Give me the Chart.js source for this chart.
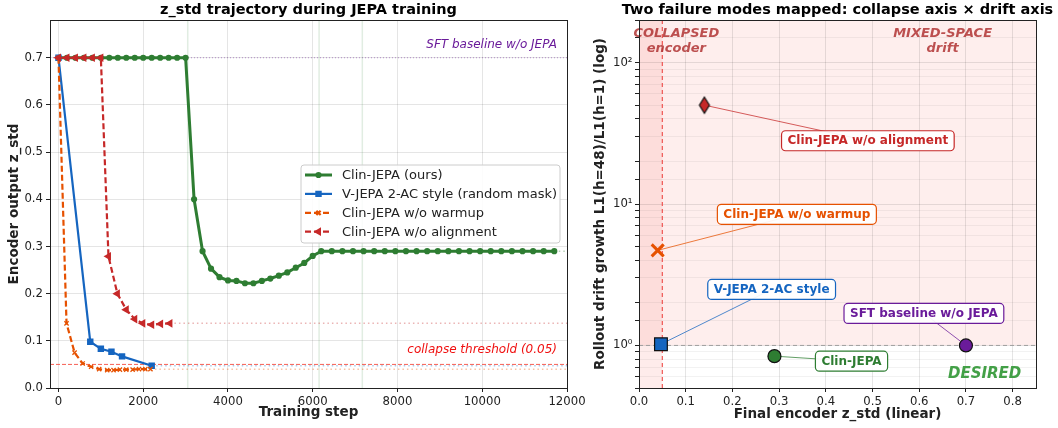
<!DOCTYPE html>
<html>
<head>
<meta charset="utf-8">
<script src="https://cdn.jsdelivr.net/npm/chart.js@4.4.1/dist/chart.umd.min.js"></script>
<style>
  html, body { margin: 0; padding: 0; background: #fff; }
  #wrap { position: relative; width: 1058px; height: 428px; }
  #left { position: absolute; left: 0; top: 0; }
  #right { position: absolute; left: 590px; top: 0; }
</style>
</head>
<body>
<div id="wrap">
  <canvas id="left" width="590" height="428"></canvas>
  <canvas id="right" width="468" height="428"></canvas>
</div>
<script>
// Dos paneles: trayectoria de z_std (izq.) y mapa colapso x deriva (der.)

// ---------------------------------------------------------------------
// Datos panel izquierdo
// ---------------------------------------------------------------------
const X_MIN = -200;
const X_MAX = 12000;
const stepTicks = [0, 2000, 4000, 6000, 8000, 10000, 12000];
const SFT_BASELINE = 0.7;
const COLLAPSE_THRESHOLD = 0.05;
const phaseSteps = [3050, 6150, 7170];

const clinSteps = [0, 200, 400, 600, 800, 1000, 1200, 1400, 1600, 1800, 2000, 2200, 2400, 2600, 2800, 3000,
  3200, 3400, 3600, 3800, 4000, 4200, 4400, 4600, 4800, 5000, 5200, 5400, 5600, 5800, 6000, 6200,
  6450, 6700, 6950, 7200, 7450, 7700, 7950, 8200, 8450, 8700, 8950, 9200, 9450, 9700, 9950,
  10200, 10450, 10700, 10950, 11200, 11450, 11700];
const clinZ = [0.7, 0.7, 0.7, 0.7, 0.7, 0.7, 0.7, 0.7, 0.7, 0.7, 0.7, 0.7, 0.7, 0.7, 0.7, 0.7,
  0.40, 0.29, 0.253, 0.235, 0.228, 0.227, 0.222, 0.222, 0.227, 0.232, 0.238, 0.245, 0.255, 0.265, 0.28, 0.29,
  0.29, 0.29, 0.29, 0.29, 0.29, 0.29, 0.29, 0.29, 0.29, 0.29, 0.29, 0.29, 0.29, 0.29, 0.29,
  0.29, 0.29, 0.29, 0.29, 0.29, 0.29, 0.29];

const vjepaSteps = [0, 750, 1000, 1250, 1500, 2200];
const vjepaZ = [0.7, 0.098, 0.083, 0.077, 0.067, 0.047];

const noWarmSteps = [0, 190, 380, 570, 770, 960, 1150, 1300, 1450, 1600, 1750, 1900, 2050, 2170];
const noWarmZ = [0.7, 0.137, 0.075, 0.052, 0.045, 0.040, 0.038, 0.038, 0.039, 0.039, 0.039, 0.040, 0.040, 0.040];

const noAlignSteps = [0, 200, 400, 600, 800, 1000, 1180, 1390, 1600, 1800, 1990, 2200, 2410, 2630];
const noAlignZ = [0.7, 0.7, 0.7, 0.7, 0.7, 0.7, 0.279, 0.20, 0.166, 0.146, 0.137, 0.134, 0.136, 0.137];

// ---------------------------------------------------------------------
// Datos panel derecho
// ---------------------------------------------------------------------
const models = ['Clin-JEPA w/o alignment', 'Clin-JEPA w/o warmup', 'V-JEPA 2-AC style', 'SFT baseline w/o JEPA', 'Clin-JEPA'];
const finalZ = [0.14, 0.04, 0.047, 0.70, 0.29];
const driftGrowth = [50, 4.7, 1.02, 1.0, 0.84];
// dónde va la etiqueta de cada modelo (coords de datos)
const labelAtZ = [0.49, 0.338, 0.284, 0.61, 0.455];
const labelAtDrift = [28, 8.45, 2.49, 1.685, 0.774];

const VERDE = '#2e7d32';
const AZUL = '#1565c0';
const NARANJA = '#e65100';
const ROJO = '#c62828';
const VIOLETA = '#6a1b9a';
const modelColors = [ROJO, NARANJA, AZUL, VIOLETA, VERDE];

Chart.defaults.font.family = "'DejaVu Sans', sans-serif";
Chart.defaults.font.size = 11.7;
Chart.defaults.color = '#222';

const FUENTE_EJE = { size: 13.5, weight: 'bold' };

// ---------------------------------------------------------------------
// Helpers
// ---------------------------------------------------------------------
function pts(xs, ys) {
  return xs.map((x, i) => ({ x, y: ys[i] }));
}

// línea punteada desde el último punto hasta el borde derecho
function cola(xs, ys) {
  const n = xs.length - 1;
  return [{ x: xs[n], y: ys[n] }, { x: X_MAX, y: ys[n] }];
}

function alpha(hex, a) {
  const n = parseInt(hex.slice(1), 16);
  return `rgba(${(n >> 16) & 255},${(n >> 8) & 255},${n & 255},${a})`;
}

function roundBox(ctx, x, y, w, h, r) {
  ctx.beginPath();
  ctx.moveTo(x + r, y);
  ctx.arcTo(x + w, y, x + w, y + h, r);
  ctx.arcTo(x + w, y + h, x, y + h, r);
  ctx.arcTo(x, y + h, x, y, r);
  ctx.arcTo(x, y, x + w, y, r);
  ctx.closePath();
}

function thinDiamond(fill) {
  const c = document.createElement('canvas');
  c.width = 14; c.height = 20;
  const g = c.getContext('2d');
  g.beginPath();
  g.moveTo(7, 2); g.lineTo(12, 10); g.lineTo(7, 18); g.lineTo(2, 10);
  g.closePath();
  g.fillStyle = fill; g.fill();
  g.lineWidth = 1.2; g.strokeStyle = '#111'; g.stroke();
  return c;
}

// marco negro alrededor del área (spines de matplotlib) + título
function marcoYTitulo(titulo) {
  return {
    id: 'marco',
    afterDraw(chart) {
      const { ctx, chartArea: a } = chart;
      ctx.save();
      ctx.strokeStyle = '#222';
      ctx.lineWidth = 1;
      ctx.strokeRect(a.left + 0.5, a.top + 0.5, a.right - a.left, a.bottom - a.top);
      ctx.fillStyle = '#000';
      ctx.font = "bold 14.5px 'DejaVu Sans'";
      ctx.textAlign = 'center';
      ctx.textBaseline = 'middle';
      ctx.fillText(titulo, (a.left + a.right) / 2, 10);
      ctx.restore();
    },
  };
}

// ---------------------------------------------------------------------
// Panel izquierdo
// ---------------------------------------------------------------------
const series = [
  { label: 'Clin-JEPA (ours)', data: pts(clinSteps, clinZ), borderColor: VERDE, backgroundColor: VERDE,
    borderWidth: 3, pointStyle: 'circle', pointRadius: 1.6, order: 4 },
  { label: 'V-JEPA 2-AC style (random mask)', data: pts(vjepaSteps, vjepaZ), borderColor: AZUL, backgroundColor: AZUL,
    borderWidth: 2.2, pointStyle: 'rect', pointRadius: 3, order: 3 },
  { label: 'Clin-JEPA w/o warmup', data: pts(noWarmSteps, noWarmZ), borderColor: NARANJA, backgroundColor: NARANJA,
    borderWidth: 2.2, borderDash: [6, 3], pointStyle: 'crossRot', pointRadius: 3, pointBorderWidth: 1.3, order: 2 },
  { label: 'Clin-JEPA w/o alignment', data: pts(noAlignSteps, noAlignZ), borderColor: ROJO, backgroundColor: ROJO,
    borderWidth: 2.2, borderDash: [6, 3], pointStyle: 'triangle', pointRotation: -90, pointRadius: 2.8, order: 1 },
];

const colas = [
  [clinSteps, clinZ, VERDE], [vjepaSteps, vjepaZ, AZUL], [noWarmSteps, noWarmZ, NARANJA], [noAlignSteps, noAlignZ, ROJO],
].map(([xs, ys, c]) => ({
  data: cola(xs, ys), borderColor: alpha(c, 0.35), borderWidth: 1.5, borderDash: [1.5, 3],
  pointRadius: 0, order: 8,
}));

const referencias = [
  { data: [{ x: X_MIN, y: SFT_BASELINE }, { x: X_MAX, y: SFT_BASELINE }], borderColor: alpha(VIOLETA, 0.45),
    borderWidth: 1, borderDash: [1, 2], pointRadius: 0, order: 10 },
  { data: [{ x: X_MIN, y: COLLAPSE_THRESHOLD }, { x: X_MAX, y: COLLAPSE_THRESHOLD }], borderColor: 'rgba(244,67,54,0.85)',
    borderWidth: 1, borderDash: [4, 2], pointRadius: 0, order: 10 },
];

const leyendaIzq = {
  id: 'leyendaIzq',
  beforeDatasetsDraw(chart) {
    const { ctx, chartArea: a, scales } = chart;
    ctx.save();
    ctx.strokeStyle = 'rgba(46,125,50,0.14)';
    ctx.lineWidth = 1.5;
    for (const s of phaseSteps) {
      const x = scales.x.getPixelForValue(s);
      ctx.beginPath(); ctx.moveTo(x, a.top); ctx.lineTo(x, a.bottom); ctx.stroke();
    }
    ctx.restore();
  },
  afterDatasetsDraw(chart) {
    const { ctx, chartArea: a, scales } = chart;
    ctx.save();
    // textos de las líneas de referencia
    ctx.font = "italic 12px 'DejaVu Sans'";
    ctx.textAlign = 'right';
    ctx.textBaseline = 'middle';
    ctx.fillStyle = VIOLETA;
    ctx.fillText('SFT baseline w/o JEPA', a.right - 10, scales.y.getPixelForValue(SFT_BASELINE) - 13);
    ctx.fillStyle = '#f01010';
    ctx.fillText('collapse threshold (0.05)', a.right - 10, scales.y.getPixelForValue(COLLAPSE_THRESHOLD) - 15);

    // leyenda
    const bx = a.right - 266, by = a.top + 145, bw = 259, bh = 78;
    roundBox(ctx, bx, by, bw, bh, 3);
    ctx.fillStyle = 'rgba(255,255,255,0.85)';
    ctx.fill();
    ctx.strokeStyle = '#cccccc';
    ctx.lineWidth = 1;
    ctx.stroke();
    ctx.font = "13px 'DejaVu Sans'";
    ctx.textAlign = 'left';
    series.forEach((s, i) => {
      const y = by + 10 + i * 18.9;
      const x0 = bx + 4, x1 = bx + 31;
      ctx.strokeStyle = s.borderColor;
      ctx.lineWidth = s.borderWidth;
      ctx.setLineDash(s.borderDash || []);
      ctx.beginPath(); ctx.moveTo(x0, y); ctx.lineTo(x1, y); ctx.stroke();
      ctx.setLineDash([]);
      ctx.fillStyle = s.backgroundColor;
      Chart.helpers.drawPoint(ctx, {
        pointStyle: s.pointStyle, radius: s.pointRadius, rotation: s.pointRotation || 0,
        borderWidth: s.pointBorderWidth || 1,
      }, (x0 + x1) / 2, y);
      ctx.fillStyle = '#222';
      ctx.fillText(s.label, bx + 41, y + 0.5);
    });
    ctx.restore();
  },
};

new Chart(document.getElementById('left'), {
  type: 'line',
  data: { datasets: [...series, ...colas, ...referencias] },
  options: {
    responsive: false,
    animation: false,
    parsing: false,
    layout: { padding: { top: 20, right: 23, bottom: 0, left: 0 } },
    elements: { line: { tension: 0 } },
    plugins: { legend: { display: false }, tooltip: { enabled: false } },
    scales: {
      x: {
        type: 'linear', min: X_MIN, max: X_MAX,
        afterBuildTicks: (s) => { s.ticks = stepTicks.map((v) => ({ value: v })); },
        ticks: { maxRotation: 0, autoSkip: false, padding: 3, callback: (v) => String(v) },
        grid: { color: 'rgba(0,0,0,0.1)', tickColor: '#222', tickLength: 4 },
        border: { display: false },
        title: { display: true, text: 'Training step', font: FUENTE_EJE, padding: { top: 0, bottom: 7 } },
        afterFit: (s) => { s.height = 40; },
      },
      y: {
        min: 0, max: 0.78,
        ticks: { stepSize: 0.1, includeBounds: false, padding: 3, callback: (v) => v.toFixed(1) },
        grid: { color: 'rgba(0,0,0,0.1)', tickColor: '#222', tickLength: 4 },
        border: { display: false },
        title: { display: true, text: 'Encoder output z_std', font: FUENTE_EJE, padding: { top: 6, bottom: 0 } },
        afterFit: (s) => { s.width = 50; },
      },
    },
  },
  plugins: [leyendaIzq, marcoYTitulo('z_std trajectory during JEPA training')],
});

// ---------------------------------------------------------------------
// Panel derecho
// ---------------------------------------------------------------------
const estilos = [
  { pointStyle: thinDiamond(ROJO), pointRadius: 8 },
  { pointStyle: 'crossRot', pointRadius: 8.5, pointBorderWidth: 3, pointBorderColor: NARANJA },
  { pointStyle: 'rect', pointRadius: 9, pointBackgroundColor: AZUL, pointBorderColor: '#111', pointBorderWidth: 1.2 },
  { pointStyle: 'circle', pointRadius: 6.5, pointBackgroundColor: VIOLETA, pointBorderColor: '#111', pointBorderWidth: 1.2 },
  { pointStyle: 'circle', pointRadius: 6.5, pointBackgroundColor: VERDE, pointBorderColor: '#111', pointBorderWidth: 1.2 },
];

const mapa = {
  id: 'mapa',
  beforeDraw(chart) {
    const { ctx, chartArea: a, scales } = chart;
    const x05 = scales.x.getPixelForValue(COLLAPSE_THRESHOLD);
    const y1 = scales.y.getPixelForValue(1);
    ctx.save();
    ctx.fillStyle = 'rgba(244,67,54,0.09)';
    ctx.fillRect(a.left, a.top, a.right - a.left, y1 - a.top);
    ctx.fillStyle = 'rgba(244,67,54,0.10)';
    ctx.fillRect(a.left, a.top, x05 - a.left, a.bottom - a.top);
    ctx.restore();
  },
  beforeDatasetsDraw(chart) {
    const { ctx, chartArea: a, scales } = chart;
    const x05 = scales.x.getPixelForValue(COLLAPSE_THRESHOLD);
    const y1 = scales.y.getPixelForValue(1);
    ctx.save();
    ctx.lineWidth = 1;
    ctx.setLineDash([4, 3]);
    ctx.strokeStyle = '#9e9e9e';
    ctx.beginPath(); ctx.moveTo(a.left, y1); ctx.lineTo(a.right, y1); ctx.stroke();
    ctx.strokeStyle = 'rgba(239,83,80,0.9)';
    ctx.lineWidth = 1.3;
    ctx.beginPath(); ctx.moveTo(x05, a.top); ctx.lineTo(x05, a.bottom); ctx.stroke();
    ctx.setLineDash([]);

    // textos de zonas
    ctx.textAlign = 'center';
    ctx.textBaseline = 'middle';
    ctx.font = "italic bold 13px 'DejaVu Sans'";
    ctx.fillStyle = 'rgba(176,52,52,0.85)';
    const xc = scales.x.getPixelForValue(0.08);
    ctx.fillText('COLLAPSED', xc, a.top + 14);
    ctx.fillText('encoder', xc, a.top + 28.5);
    const xm = scales.x.getPixelForValue(0.65);
    ctx.fillText('MIXED-SPACE', xm, a.top + 14);
    ctx.fillText('drift', xm, a.top + 28.5);
    ctx.font = "italic bold 15px 'DejaVu Sans'";
    ctx.fillStyle = '#43a047';
    ctx.fillText('DESIRED', scales.x.getPixelForValue(0.74), scales.y.getPixelForValue(0.623));

    // conectores punto -> etiqueta
    models.forEach((m, i) => {
      ctx.strokeStyle = alpha(modelColors[i], 0.75);
      ctx.lineWidth = 1;
      ctx.beginPath();
      ctx.moveTo(scales.x.getPixelForValue(finalZ[i]), scales.y.getPixelForValue(driftGrowth[i]));
      ctx.lineTo(scales.x.getPixelForValue(labelAtZ[i]), scales.y.getPixelForValue(labelAtDrift[i]));
      ctx.stroke();
    });
    ctx.restore();
  },
  afterDatasetsDraw(chart) {
    const { ctx, scales } = chart;
    ctx.save();
    ctx.font = "bold 12px 'DejaVu Sans'";
    ctx.textAlign = 'center';
    ctx.textBaseline = 'middle';
    models.forEach((m, i) => {
      const cx = scales.x.getPixelForValue(labelAtZ[i]);
      const cy = scales.y.getPixelForValue(labelAtDrift[i]);
      const w = ctx.measureText(m).width + 12;
      const h = 20;
      roundBox(ctx, cx - w / 2, cy - h / 2, w, h, 4);
      ctx.fillStyle = 'rgba(255,255,255,0.92)';
      ctx.fill();
      ctx.strokeStyle = modelColors[i];
      ctx.lineWidth = 1.2;
      ctx.stroke();
      ctx.fillStyle = modelColors[i];
      ctx.fillText(m, cx, cy + 0.5);
    });
    ctx.restore();
  },
};

const esMayor = (v) => Math.abs(Math.log10(v) - Math.round(Math.log10(v))) < 1e-9;
const SUP = { '0': '⁰', '1': '¹', '2': '²', '3': '³' };

new Chart(document.getElementById('right'), {
  type: 'scatter',
  data: {
    datasets: models.map((m, i) => ({
      label: m,
      data: [{ x: finalZ[i], y: driftGrowth[i] }],
      ...estilos[i],
    })),
  },
  options: {
    responsive: false,
    animation: false,
    layout: { padding: { top: 20, right: 22, bottom: 0, left: 0 } },
    plugins: { legend: { display: false }, tooltip: { enabled: false } },
    scales: {
      x: {
        type: 'linear', min: 0, max: 0.85,
        ticks: { stepSize: 0.1, includeBounds: false, padding: 3, callback: (v) => v.toFixed(1) },
        grid: { color: 'rgba(0,0,0,0.1)', tickColor: '#222', tickLength: 4 },
        border: { display: false },
        title: { display: true, text: 'Final encoder z_std (linear)', font: FUENTE_EJE, padding: { top: 0, bottom: 5 } },
        afterFit: (s) => { s.height = 40; },
      },
      y: {
        type: 'logarithmic', min: 0.5, max: 200,
        ticks: {
          padding: 2.5,
          autoSkip: false,
          callback: (v) => (esMayor(v) ? '10' + SUP[String(Math.round(Math.log10(v)))] : ''),
        },
        grid: {
          color: (c) => (c.tick && esMayor(c.tick.value) ? 'rgba(0,0,0,0.1)' : 'rgba(0,0,0,0.05)'),
          tickColor: '#222',
          tickLength: 4,
        },
        border: { display: false },
        title: { display: true, text: 'Rollout drift growth L1(h=48)/L1(h=1) (log)', font: FUENTE_EJE, padding: { top: 2, bottom: 0 } },
        afterFit: (s) => { s.width = 49; },
      },
    },
  },
  plugins: [mapa, marcoYTitulo('Two failure modes mapped: collapse axis × drift axis')],
});
</script>
</body>
</html>
